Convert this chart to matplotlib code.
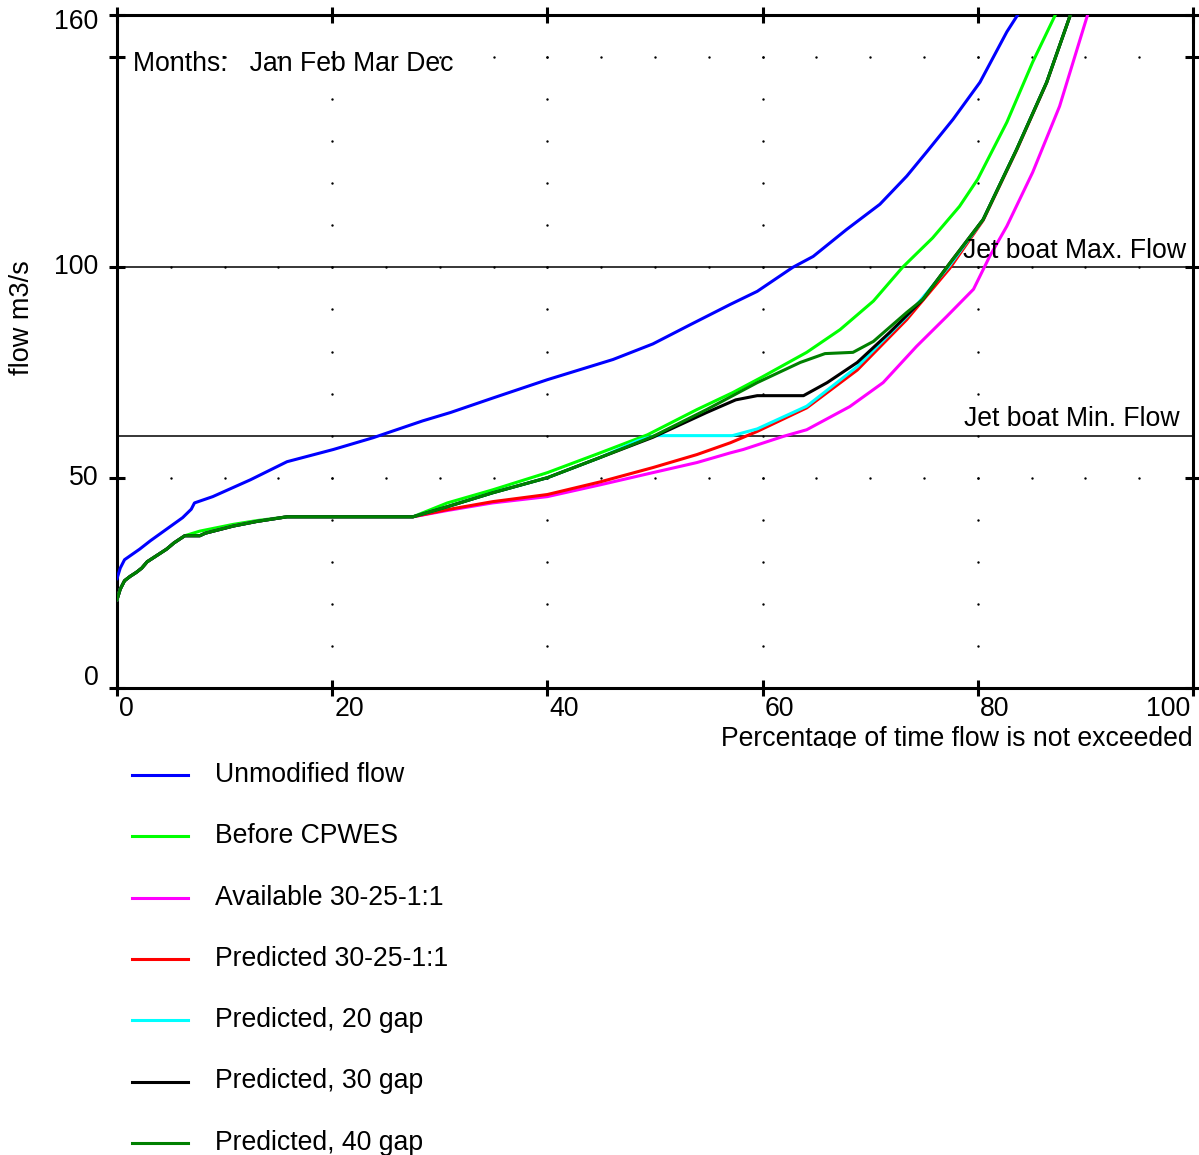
import numpy as np
import matplotlib
matplotlib.use("Agg")
import matplotlib.pyplot as plt
from matplotlib.lines import Line2D
from matplotlib.transforms import Bbox

plt.rcParams['font.family'] = ['Liberation Sans', 'DejaVu Sans']

# ---------------- data ----------------
series_labels = ["Unmodified flow", "Before CPWES", "Available 30-25-1:1",
                 "Predicted 30-25-1:1", "Predicted, 20 gap", "Predicted, 30 gap",
                 "Predicted, 40 gap"]
series_colors = ["#0000ff", "#00ff00", "#ff00ff", "#ff0000", "#00ffff", "#000000", "#008000"]

# common low-flow part (shared by all regulated series)
low_x = [0, 0.3, 0.7, 1.2, 1.8, 2.3, 2.8, 3.4, 4.0, 4.6, 5.3, 6.3]
low_y = [21, 23.5, 25.5, 26.5, 27.5, 28.5, 30, 31, 32, 33, 34.5, 36.2]
flat_x = [7.7, 8.2, 10.8, 13, 15.8, 27.5]
flat_y = [36.2, 36.8, 38.5, 39.6, 40.7, 40.7]

unmod_x = [0, 0.3, 0.7, 2.1, 3.1, 4.9, 6.1, 6.9, 7.2, 8.9, 12.4, 15.8, 20.1, 23.8,
           28.4, 31, 35, 40, 46.1, 49.8, 53.3, 57, 59.5, 62.8, 64.7, 67.8, 70.9,
           73.4, 75.3, 77.7, 80.2, 82.7, 83.7]
unmod_y = [26, 28.5, 30.5, 33, 35, 38.3, 40.5, 42.5, 44, 45.5, 49.5, 53.8, 56.7, 59.5,
           63.5, 65.5, 69, 73.3, 78.1, 81.8, 86.4, 91.2, 94.3, 100, 102.6, 109, 115,
           121.7, 127.6, 135.2, 144, 156, 160]

before_x = low_x + [7.7, 10.8, 13, 15.8, 27.5, 30.7, 34.9, 40, 44.9, 49.3, 53.9, 57.2,
                    60, 64.1, 67.2, 70.3, 73, 75.8, 78.3, 80, 82.7, 85.1, 87.2]
before_y = low_y + [37.3, 38.9, 39.8, 40.7, 40.7, 44, 47.1, 51.2, 55.9, 60.2, 66.2, 70.2,
                    74, 79.8, 85.2, 92, 100, 107, 114.5, 121, 134.5, 148.8, 160]

avail_x = low_x + flat_x + [30.7, 34.9, 40, 44.9, 49.8, 53.9, 57, 58.2, 61.9, 64.1, 68.1,
                            71.2, 74.3, 77.1, 79.6, 81.1, 82.7, 85.1, 87.6, 90.2]
avail_y = low_y + flat_y + [42.2, 44, 45.5, 48.3, 51.2, 53.6, 55.9, 56.7, 59.8, 61.4, 66.9,
                            72.6, 81.2, 88.3, 94.8, 102.6, 109.8, 122.6, 138.3, 160]

pred_x = low_x + flat_x + [30.7, 34.9, 40, 44.9, 49.8, 53.9, 57, 59.5, 64.1, 68.8, 73.4,
                           77.4, 80.5, 83.6, 86.4, 88.6]
pred_y = low_y + flat_y + [42.4, 44.3, 46, 49, 52.4, 55.5, 58.3, 61, 66.6, 75.6, 87.6,
                           99.8, 111.2, 127.8, 143.9, 160]

gap20_x = low_x + flat_x + [30.7, 34.9, 40, 44.9, 48.4, 50, 57.2, 59.5, 64.1, 68.8, 73.4,
                            77.4, 80.5, 83.6, 86.4, 88.6]
gap20_y = low_y + flat_y + [43.1, 46.4, 50, 54.8, 58.8, 60, 60, 61.6, 67, 76.4, 88.3,
                            100.5, 111.4, 128, 144, 160]

gap30_x = low_x + flat_x + [30.7, 34.9, 40, 44.9, 49.8, 54.8, 57.5, 59.5, 63.8, 66, 68.8,
                            71.8, 74.9, 77.4, 80.5, 83.6, 86.4, 88.6]
gap30_y = low_y + flat_y + [43.1, 46.4, 50, 54.8, 59.6, 65.5, 68.5, 69.5, 69.5, 72.6, 77.4,
                            84.5, 92.4, 101, 111.4, 128, 144, 160]

gap40_x = low_x + flat_x + [30.7, 34.9, 40, 44.9, 49.8, 54.8, 59.5, 63.5, 65.8, 68.4, 70.3,
                            73.4, 74.9, 77.4, 80.5, 83.6, 86.4, 88.6]
gap40_y = low_y + flat_y + [43.1, 46.4, 50, 54.8, 59.8, 66.2, 72.6, 77.4, 79.5, 79.8, 82.4,
                            89.3, 92.4, 101, 111.4, 128, 144, 160]

series_x = [unmod_x, before_x, avail_x, pred_x, gap20_x, gap30_x, gap40_x]
series_y = [unmod_y, before_y, avail_y, pred_y, gap20_y, gap30_y, gap40_y]

ref_levels = [100, 60]
ref_labels = ["Jet boat Max. Flow", "Jet boat Min. Flow"]

xticks = [0, 20, 40, 60, 80, 100]
xtick_labels = ["0", "20", "40", "60", "80", "100"]
yticks = [0, 50, 100, 150, 160]
ytick_label_vals = [0, 50, 100, 160]
ytick_labels = ["0", "50", "100", "160"]

months_text = "Months:   Jan Feb Mar Dec"

# ---------------- figure ----------------
W, H = 1199, 1155
fig = plt.figure(figsize=(W / 100, H / 100), dpi=100)
L, R, T, B = 117, 1193, 15, 688
ax = fig.add_axes([L / W, 1 - B / H, (R - L) / W, (B - T) / H])
ax.set_xlim(0, 100)
ax.set_ylim(0, 160)

FS = 19.2

# grid dots
gx = np.arange(5, 100, 5)
for yv in [50, 100, 150]:
    ax.scatter(gx, np.full_like(gx, yv, dtype=float), s=3, color='black', zorder=1, linewidths=0)
gy = np.arange(10, 160, 10)
for xv in [20, 40, 60, 80]:
    ax.scatter(np.full_like(gy, xv, dtype=float), gy, s=3, color='black', zorder=1, linewidths=0)

# reference lines
for lvl, lab in zip(ref_levels, ref_labels):
    ax.axhline(lvl, color='black', lw=1.1, zorder=2)
    ax.text(99.4 if lvl == 100 else 98.8, lvl + 0.8, lab, ha='right', va='bottom', fontsize=FS, zorder=5)

# curves
for xs, ys, c in zip(series_x, series_y, series_colors):
    ax.plot(xs, ys, color=c, lw=2.2, zorder=3, solid_joinstyle='round')

# spines & ticks
for s in ax.spines.values():
    s.set_linewidth(2.2)
    s.set_color('black')
ax.set_xticks(xticks)
ax.set_yticks(yticks)
ax.tick_params(axis='both', direction='inout', length=11, width=2.2,
               top=True, right=True, labelbottom=False, labelleft=False)

# tick labels
for xv, lab in zip(xticks, xtick_labels):
    ha = 'right' if xv == 100 else 'left'
    xo = -0.3 if xv == 100 else 0.2
    ax.text(xv + xo, -1.9, lab, ha=ha, va='top', fontsize=FS, clip_on=False)
for yv, lab in zip(ytick_label_vals, ytick_labels):
    yy = yv
    if yv == 160:
        yy = 158.3
    if yv == 0:
        yy = 2.4
    ax.text(-1.7, yy, lab, ha='right', va='center', fontsize=FS, clip_on=False)

ax.text(1.5, 148.4, months_text, ha='left', va='center', fontsize=FS, zorder=5)

# y label
fig.text(22 / W, 1 - 318 / H, "flow m3/s", rotation=90, ha='center', va='center', fontsize=19.5)

# x label (clipped at the bottom like the reference)
xl = fig.text(1193 / W, 1 - 746 / H, "Percentage of time flow is not exceeded",
              ha='right', va='baseline', fontsize=FS)
clip = Bbox.from_extents(0, H - 748, W, H)
xl.set_clip_box(clip)
xl.set_clip_on(True)

# legend (manual)
leg_y0, leg_dy = 775, 61.3
for i, (lab, c) in enumerate(zip(series_labels, series_colors)):
    yp = 1 - (leg_y0 + i * leg_dy) / H
    fig.add_artist(Line2D([132 / W, 188 / W], [yp, yp], color=c, lw=2.2,
                          transform=fig.transFigure))
    fig.text(215 / W, yp, lab, ha='left', va='center', fontsize=FS)

fig.savefig("out.png", dpi=100)
